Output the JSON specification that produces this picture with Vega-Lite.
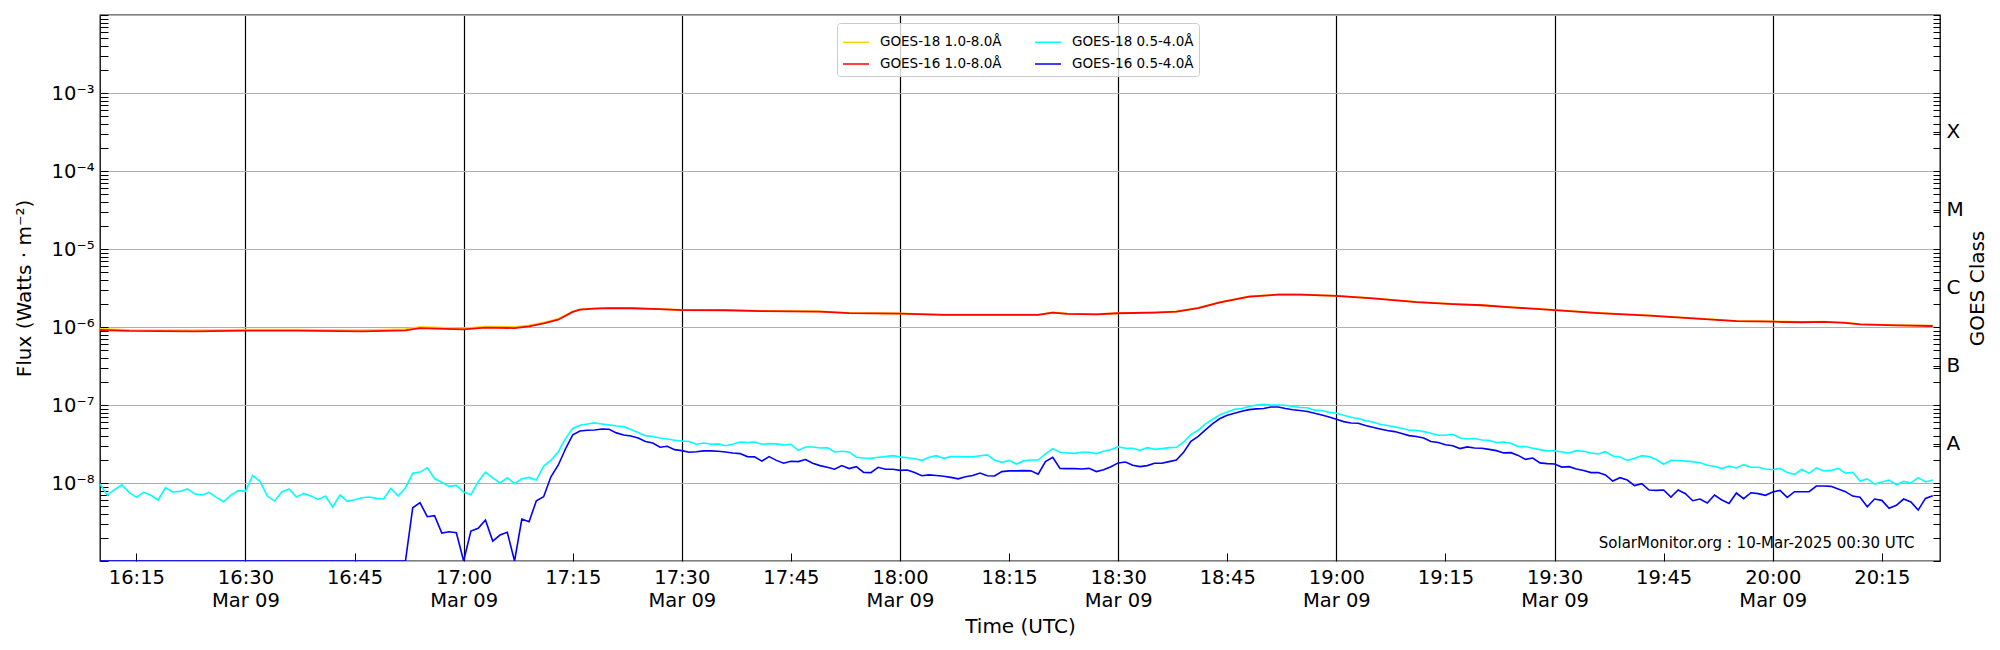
{
  "$schema": "https://vega.github.io/schema/vega-lite/v6.json",
  "width": 1840,
  "height": 546,
  "autosize": {"type": "none"},
  "padding": {"left": 100, "top": 15, "right": 60, "bottom": 89},
  "background": "white",
  "config": {
    "font": "DejaVu Sans",
    "view": {"stroke": "black", "strokeWidth": 1.3},
    "axis": {"labelFont": "DejaVu Sans", "titleFont": "DejaVu Sans", "labelColor": "black", "titleColor": "black", "tickColor": "black", "titleFontWeight": "normal", "labelOverlap": false, "labelBound": false, "labelFlush": false, "domain": false}
  },
  "datasets": {
    "g18long": [
      {"t":"2025-03-09T16:10Z","f":9.45e-7},{"t":"2025-03-09T16:14Z","f":9.2e-7},{"t":"2025-03-09T16:23Z","f":9.1e-7},{"t":"2025-03-09T16:30Z","f":9.28e-7},
      {"t":"2025-03-09T16:37Z","f":9.28e-7},{"t":"2025-03-09T16:46Z","f":9.1e-7},{"t":"2025-03-09T16:52Z","f":9.36e-7},{"t":"2025-03-09T16:54Z","f":1.0e-6},
      {"t":"2025-03-09T16:55Z","f":9.92e-7},{"t":"2025-03-09T17:00Z","f":9.6e-7},{"t":"2025-03-09T17:03Z","f":1.01e-6},{"t":"2025-03-09T17:07Z","f":1.0e-6},
      {"t":"2025-03-09T17:09Z","f":1.05e-6},{"t":"2025-03-09T17:11Z","f":1.14e-6},{"t":"2025-03-09T17:13Z","f":1.27e-6},{"t":"2025-03-09T17:15Z","f":1.58e-6},
      {"t":"2025-03-09T17:16Z","f":1.68e-6},{"t":"2025-03-09T17:18Z","f":1.73e-6},{"t":"2025-03-09T17:20Z","f":1.76e-6},{"t":"2025-03-09T17:23Z","f":1.75e-6},
      {"t":"2025-03-09T17:27Z","f":1.7e-6},{"t":"2025-03-09T17:30Z","f":1.66e-6},{"t":"2025-03-09T17:36Z","f":1.65e-6},{"t":"2025-03-09T17:41Z","f":1.61e-6},
      {"t":"2025-03-09T17:45Z","f":1.6e-6},{"t":"2025-03-09T17:49Z","f":1.58e-6},{"t":"2025-03-09T17:53Z","f":1.52e-6},{"t":"2025-03-09T18:00Z","f":1.49e-6},
      {"t":"2025-03-09T18:06Z","f":1.44e-6},{"t":"2025-03-09T18:19Z","f":1.44e-6},{"t":"2025-03-09T18:21Z","f":1.54e-6},{"t":"2025-03-09T18:23Z","f":1.48e-6},
      {"t":"2025-03-09T18:27Z","f":1.46e-6},{"t":"2025-03-09T18:30Z","f":1.51e-6},{"t":"2025-03-09T18:35Z","f":1.54e-6},{"t":"2025-03-09T18:38Z","f":1.58e-6},
      {"t":"2025-03-09T18:41Z","f":1.76e-6},{"t":"2025-03-09T18:44Z","f":2.08e-6},{"t":"2025-03-09T18:48Z","f":2.46e-6},{"t":"2025-03-09T18:52Z","f":2.61e-6},
      {"t":"2025-03-09T18:55Z","f":2.61e-6},{"t":"2025-03-09T19:00Z","f":2.51e-6},{"t":"2025-03-09T19:05Z","f":2.34e-6},{"t":"2025-03-09T19:11Z","f":2.1e-6},
      {"t":"2025-03-09T19:16Z","f":1.98e-6},{"t":"2025-03-09T19:20Z","f":1.91e-6},{"t":"2025-03-09T19:24Z","f":1.8e-6},{"t":"2025-03-09T19:30Z","f":1.66e-6},
      {"t":"2025-03-09T19:36Z","f":1.52e-6},{"t":"2025-03-09T19:43Z","f":1.41e-6},{"t":"2025-03-09T19:49Z","f":1.3e-6},{"t":"2025-03-09T19:55Z","f":1.2e-6},
      {"t":"2025-03-09T20:00Z","f":1.18e-6},{"t":"2025-03-09T20:04Z","f":1.16e-6},{"t":"2025-03-09T20:07Z","f":1.17e-6},{"t":"2025-03-09T20:10Z","f":1.14e-6},
      {"t":"2025-03-09T20:12Z","f":1.09e-6},{"t":"2025-03-09T20:17Z","f":1.06e-6},{"t":"2025-03-09T20:22Z","f":1.04e-6}
    ],
    "g16long": [
      {"t":"2025-03-09T16:10Z","f":9.15e-7},{"t":"2025-03-09T16:14Z","f":8.9e-7},{"t":"2025-03-09T16:23Z","f":8.8e-7},{"t":"2025-03-09T16:30Z","f":8.97e-7},
      {"t":"2025-03-09T16:37Z","f":8.97e-7},{"t":"2025-03-09T16:46Z","f":8.8e-7},{"t":"2025-03-09T16:52Z","f":9.06e-7},{"t":"2025-03-09T16:54Z","f":9.7e-7},
      {"t":"2025-03-09T16:55Z","f":9.6e-7},{"t":"2025-03-09T17:00Z","f":9.3e-7},{"t":"2025-03-09T17:03Z","f":9.8e-7},{"t":"2025-03-09T17:07Z","f":9.7e-7},
      {"t":"2025-03-09T17:09Z","f":1.02e-6},{"t":"2025-03-09T17:11Z","f":1.11e-6},{"t":"2025-03-09T17:13Z","f":1.24e-6},{"t":"2025-03-09T17:15Z","f":1.56e-6},
      {"t":"2025-03-09T17:16Z","f":1.67e-6},{"t":"2025-03-09T17:18Z","f":1.72e-6},{"t":"2025-03-09T17:20Z","f":1.75e-6},{"t":"2025-03-09T17:23Z","f":1.74e-6},
      {"t":"2025-03-09T17:27Z","f":1.69e-6},{"t":"2025-03-09T17:30Z","f":1.65e-6},{"t":"2025-03-09T17:36Z","f":1.64e-6},{"t":"2025-03-09T17:41Z","f":1.6e-6},
      {"t":"2025-03-09T17:45Z","f":1.59e-6},{"t":"2025-03-09T17:49Z","f":1.57e-6},{"t":"2025-03-09T17:53Z","f":1.51e-6},{"t":"2025-03-09T18:00Z","f":1.48e-6},
      {"t":"2025-03-09T18:06Z","f":1.43e-6},{"t":"2025-03-09T18:19Z","f":1.43e-6},{"t":"2025-03-09T18:21Z","f":1.53e-6},{"t":"2025-03-09T18:23Z","f":1.47e-6},
      {"t":"2025-03-09T18:27Z","f":1.45e-6},{"t":"2025-03-09T18:30Z","f":1.5e-6},{"t":"2025-03-09T18:35Z","f":1.53e-6},{"t":"2025-03-09T18:38Z","f":1.57e-6},
      {"t":"2025-03-09T18:41Z","f":1.75e-6},{"t":"2025-03-09T18:44Z","f":2.07e-6},{"t":"2025-03-09T18:48Z","f":2.45e-6},{"t":"2025-03-09T18:52Z","f":2.6e-6},
      {"t":"2025-03-09T18:55Z","f":2.6e-6},{"t":"2025-03-09T19:00Z","f":2.5e-6},{"t":"2025-03-09T19:05Z","f":2.33e-6},{"t":"2025-03-09T19:11Z","f":2.09e-6},
      {"t":"2025-03-09T19:16Z","f":1.97e-6},{"t":"2025-03-09T19:20Z","f":1.9e-6},{"t":"2025-03-09T19:24Z","f":1.79e-6},{"t":"2025-03-09T19:30Z","f":1.65e-6},
      {"t":"2025-03-09T19:36Z","f":1.51e-6},{"t":"2025-03-09T19:43Z","f":1.4e-6},{"t":"2025-03-09T19:49Z","f":1.29e-6},{"t":"2025-03-09T19:55Z","f":1.19e-6},
      {"t":"2025-03-09T20:00Z","f":1.17e-6},{"t":"2025-03-09T20:04Z","f":1.15e-6},{"t":"2025-03-09T20:07Z","f":1.16e-6},{"t":"2025-03-09T20:10Z","f":1.13e-6},
      {"t":"2025-03-09T20:12Z","f":1.08e-6},{"t":"2025-03-09T20:17Z","f":1.05e-6},{"t":"2025-03-09T20:22Z","f":1.03e-6}
    ],
    "g18short": [
      {"t":"2025-03-09T16:10Z","f":9.7e-9},{"t":"2025-03-09T16:11Z","f":7.0e-9},{"t":"2025-03-09T16:12Z","f":8.2e-9},{"t":"2025-03-09T16:13Z","f":9.5e-9},
      {"t":"2025-03-09T16:14Z","f":7.6e-9},{"t":"2025-03-09T16:15Z","f":6.55e-9},{"t":"2025-03-09T16:16Z","f":7.6e-9},{"t":"2025-03-09T16:17Z","f":6.95e-9},
      {"t":"2025-03-09T16:18Z","f":6.05e-9},{"t":"2025-03-09T16:19Z","f":8.7e-9},{"t":"2025-03-09T16:20Z","f":7.66e-9},{"t":"2025-03-09T16:21Z","f":7.8e-9},
      {"t":"2025-03-09T16:22Z","f":8.4e-9},{"t":"2025-03-09T16:23Z","f":7.3e-9},{"t":"2025-03-09T16:24Z","f":7.0e-9},{"t":"2025-03-09T16:25Z","f":7.6e-9},
      {"t":"2025-03-09T16:26Z","f":6.55e-9},{"t":"2025-03-09T16:27Z","f":5.75e-9},{"t":"2025-03-09T16:28Z","f":7.0e-9},{"t":"2025-03-09T16:29Z","f":7.97e-9},
      {"t":"2025-03-09T16:30Z","f":7.8e-9},{"t":"2025-03-09T16:31Z","f":1.25e-8},{"t":"2025-03-09T16:32Z","f":1.05e-8},{"t":"2025-03-09T16:33Z","f":6.8e-9},
      {"t":"2025-03-09T16:34Z","f":5.87e-9},{"t":"2025-03-09T16:35Z","f":7.66e-9},{"t":"2025-03-09T16:36Z","f":8.4e-9},{"t":"2025-03-09T16:37Z","f":6.6e-9},
      {"t":"2025-03-09T16:38Z","f":7.36e-9},{"t":"2025-03-09T16:39Z","f":6.8e-9},{"t":"2025-03-09T16:40Z","f":6.17e-9},{"t":"2025-03-09T16:41Z","f":6.8e-9},
      {"t":"2025-03-09T16:42Z","f":4.92e-9},{"t":"2025-03-09T16:43Z","f":7.0e-9},{"t":"2025-03-09T16:44Z","f":5.82e-9},{"t":"2025-03-09T16:45Z","f":6.1e-9},
      {"t":"2025-03-09T16:46Z","f":6.48e-9},{"t":"2025-03-09T16:47Z","f":6.6e-9},{"t":"2025-03-09T16:48Z","f":6.35e-9},{"t":"2025-03-09T16:49Z","f":6.23e-9},
      {"t":"2025-03-09T16:50Z","f":8.55e-9},{"t":"2025-03-09T16:51Z","f":6.8e-9},{"t":"2025-03-09T16:52Z","f":8.7e-9},{"t":"2025-03-09T16:53Z","f":1.33e-8},
      {"t":"2025-03-09T16:54Z","f":1.38e-8},{"t":"2025-03-09T16:55Z","f":1.57e-8},{"t":"2025-03-09T16:56Z","f":1.14e-8},{"t":"2025-03-09T16:57Z","f":1.02e-8},
      {"t":"2025-03-09T16:58Z","f":9.06e-9},{"t":"2025-03-09T16:59Z","f":9.33e-9},{"t":"2025-03-09T17:00Z","f":7.66e-9},{"t":"2025-03-09T17:01Z","f":7.08e-9},
      {"t":"2025-03-09T17:02Z","f":1.04e-8},{"t":"2025-03-09T17:03Z","f":1.38e-8},{"t":"2025-03-09T17:04Z","f":1.16e-8},{"t":"2025-03-09T17:05Z","f":1.0e-8},
      {"t":"2025-03-09T17:06Z","f":1.17e-8},{"t":"2025-03-09T17:07Z","f":9.8e-9},{"t":"2025-03-09T17:08Z","f":1.13e-8},{"t":"2025-03-09T17:09Z","f":1.18e-8},
      {"t":"2025-03-09T17:10Z","f":1.09e-8},{"t":"2025-03-09T17:11Z","f":1.65e-8},{"t":"2025-03-09T17:12Z","f":1.95e-8},{"t":"2025-03-09T17:13Z","f":2.5e-8},
      {"t":"2025-03-09T17:14Z","f":3.71e-8},{"t":"2025-03-09T17:15Z","f":5.0e-8},{"t":"2025-03-09T17:16Z","f":5.5e-8},{"t":"2025-03-09T17:17Z","f":5.72e-8},
      {"t":"2025-03-09T17:18Z","f":5.89e-8},{"t":"2025-03-09T17:19Z","f":5.72e-8},{"t":"2025-03-09T17:20Z","f":5.56e-8},{"t":"2025-03-09T17:21Z","f":5.39e-8},
      {"t":"2025-03-09T17:22Z","f":5.28e-8},{"t":"2025-03-09T17:23Z","f":4.84e-8},{"t":"2025-03-09T17:24Z","f":4.43e-8},{"t":"2025-03-09T17:25Z","f":4.05e-8},
      {"t":"2025-03-09T17:26Z","f":3.94e-8},{"t":"2025-03-09T17:27Z","f":3.78e-8},{"t":"2025-03-09T17:28Z","f":3.67e-8},{"t":"2025-03-09T17:29Z","f":3.53e-8},
      {"t":"2025-03-09T17:30Z","f":3.46e-8},{"t":"2025-03-09T17:31Z","f":3.4e-8},{"t":"2025-03-09T17:32Z","f":3.14e-8},{"t":"2025-03-09T17:33Z","f":3.26e-8},
      {"t":"2025-03-09T17:34Z","f":3.14e-8},{"t":"2025-03-09T17:35Z","f":3.17e-8},{"t":"2025-03-09T17:36Z","f":3.01e-8},{"t":"2025-03-09T17:37Z","f":3.14e-8},
      {"t":"2025-03-09T17:38Z","f":3.36e-8},{"t":"2025-03-09T17:39Z","f":3.3e-8},{"t":"2025-03-09T17:40Z","f":3.36e-8},{"t":"2025-03-09T17:41Z","f":3.14e-8},
      {"t":"2025-03-09T17:42Z","f":3.2e-8},{"t":"2025-03-09T17:43Z","f":3.17e-8},{"t":"2025-03-09T17:44Z","f":3.08e-8},{"t":"2025-03-09T17:45Z","f":3.14e-8},
      {"t":"2025-03-09T17:46Z","f":2.62e-8},{"t":"2025-03-09T17:47Z","f":2.9e-8},{"t":"2025-03-09T17:48Z","f":2.9e-8},{"t":"2025-03-09T17:49Z","f":2.81e-8},
      {"t":"2025-03-09T17:50Z","f":2.84e-8},{"t":"2025-03-09T17:51Z","f":2.5e-8},{"t":"2025-03-09T17:52Z","f":2.55e-8},{"t":"2025-03-09T17:53Z","f":2.5e-8},
      {"t":"2025-03-09T17:54Z","f":2.14e-8},{"t":"2025-03-09T17:55Z","f":2.09e-8},{"t":"2025-03-09T17:56Z","f":2.07e-8},{"t":"2025-03-09T17:57Z","f":2.14e-8},
      {"t":"2025-03-09T17:58Z","f":2.18e-8},{"t":"2025-03-09T17:59Z","f":2.24e-8},{"t":"2025-03-09T18:00Z","f":2.16e-8},{"t":"2025-03-09T18:01Z","f":2.11e-8},
      {"t":"2025-03-09T18:02Z","f":2.05e-8},{"t":"2025-03-09T18:03Z","f":1.95e-8},{"t":"2025-03-09T18:04Z","f":2.14e-8},{"t":"2025-03-09T18:05Z","f":2.24e-8},
      {"t":"2025-03-09T18:06Z","f":2.07e-8},{"t":"2025-03-09T18:07Z","f":2.18e-8},{"t":"2025-03-09T18:08Z","f":2.18e-8},{"t":"2025-03-09T18:09Z","f":2.16e-8},
      {"t":"2025-03-09T18:10Z","f":2.16e-8},{"t":"2025-03-09T18:11Z","f":2.24e-8},{"t":"2025-03-09T18:12Z","f":2.29e-8},{"t":"2025-03-09T18:13Z","f":1.97e-8},
      {"t":"2025-03-09T18:14Z","f":1.84e-8},{"t":"2025-03-09T18:15Z","f":1.95e-8},{"t":"2025-03-09T18:16Z","f":1.75e-8},{"t":"2025-03-09T18:17Z","f":1.92e-8},
      {"t":"2025-03-09T18:18Z","f":1.97e-8},{"t":"2025-03-09T18:19Z","f":1.97e-8},{"t":"2025-03-09T18:20Z","f":2.36e-8},{"t":"2025-03-09T18:21Z","f":2.76e-8},
      {"t":"2025-03-09T18:22Z","f":2.48e-8},{"t":"2025-03-09T18:23Z","f":2.43e-8},{"t":"2025-03-09T18:24Z","f":2.4e-8},{"t":"2025-03-09T18:25Z","f":2.48e-8},
      {"t":"2025-03-09T18:26Z","f":2.48e-8},{"t":"2025-03-09T18:27Z","f":2.38e-8},{"t":"2025-03-09T18:28Z","f":2.55e-8},{"t":"2025-03-09T18:29Z","f":2.68e-8},
      {"t":"2025-03-09T18:30Z","f":2.9e-8},{"t":"2025-03-09T18:31Z","f":2.79e-8},{"t":"2025-03-09T18:32Z","f":2.79e-8},{"t":"2025-03-09T18:33Z","f":2.62e-8},
      {"t":"2025-03-09T18:34Z","f":2.84e-8},{"t":"2025-03-09T18:35Z","f":2.7e-8},{"t":"2025-03-09T18:36Z","f":2.76e-8},{"t":"2025-03-09T18:37Z","f":2.84e-8},
      {"t":"2025-03-09T18:38Z","f":2.87e-8},{"t":"2025-03-09T18:39Z","f":3.36e-8},{"t":"2025-03-09T18:40Z","f":4.17e-8},{"t":"2025-03-09T18:41Z","f":4.74e-8},
      {"t":"2025-03-09T18:42Z","f":5.72e-8},{"t":"2025-03-09T18:43Z","f":6.56e-8},{"t":"2025-03-09T18:44Z","f":7.53e-8},{"t":"2025-03-09T18:45Z","f":8.15e-8},
      {"t":"2025-03-09T18:46Z","f":8.83e-8},{"t":"2025-03-09T18:47Z","f":9.0e-8},{"t":"2025-03-09T18:48Z","f":9.55e-8},{"t":"2025-03-09T18:49Z","f":1.0e-7},
      {"t":"2025-03-09T18:50Z","f":1.02e-7},{"t":"2025-03-09T18:51Z","f":1.0e-7},{"t":"2025-03-09T18:52Z","f":1.0e-7},{"t":"2025-03-09T18:53Z","f":9.9e-8},
      {"t":"2025-03-09T18:54Z","f":9.66e-8},{"t":"2025-03-09T18:55Z","f":9.29e-8},{"t":"2025-03-09T18:56Z","f":9.2e-8},{"t":"2025-03-09T18:57Z","f":8.59e-8},
      {"t":"2025-03-09T18:58Z","f":8.5e-8},{"t":"2025-03-09T18:59Z","f":8.05e-8},{"t":"2025-03-09T19:00Z","f":7.83e-8},{"t":"2025-03-09T19:01Z","f":7.39e-8},
      {"t":"2025-03-09T19:02Z","f":6.97e-8},{"t":"2025-03-09T19:03Z","f":6.7e-8},{"t":"2025-03-09T19:04Z","f":6.31e-8},{"t":"2025-03-09T19:05Z","f":6.07e-8},
      {"t":"2025-03-09T19:06Z","f":5.66e-8},{"t":"2025-03-09T19:07Z","f":5.45e-8},{"t":"2025-03-09T19:08Z","f":5.24e-8},{"t":"2025-03-09T19:09Z","f":5.03e-8},
      {"t":"2025-03-09T19:10Z","f":4.74e-8},{"t":"2025-03-09T19:11Z","f":4.74e-8},{"t":"2025-03-09T19:12Z","f":4.56e-8},{"t":"2025-03-09T19:13Z","f":4.34e-8},
      {"t":"2025-03-09T19:14Z","f":4.09e-8},{"t":"2025-03-09T19:15Z","f":4.09e-8},{"t":"2025-03-09T19:16Z","f":4.22e-8},{"t":"2025-03-09T19:17Z","f":3.78e-8},
      {"t":"2025-03-09T19:18Z","f":3.67e-8},{"t":"2025-03-09T19:19Z","f":3.71e-8},{"t":"2025-03-09T19:20Z","f":3.56e-8},{"t":"2025-03-09T19:21Z","f":3.53e-8},
      {"t":"2025-03-09T19:22Z","f":3.3e-8},{"t":"2025-03-09T19:23Z","f":3.36e-8},{"t":"2025-03-09T19:24Z","f":3.23e-8},{"t":"2025-03-09T19:25Z","f":2.93e-8},
      {"t":"2025-03-09T19:26Z","f":2.93e-8},{"t":"2025-03-09T19:27Z","f":2.79e-8},{"t":"2025-03-09T19:28Z","f":2.68e-8},{"t":"2025-03-09T19:29Z","f":2.58e-8},
      {"t":"2025-03-09T19:30Z","f":2.58e-8},{"t":"2025-03-09T19:31Z","f":2.5e-8},{"t":"2025-03-09T19:32Z","f":2.43e-8},{"t":"2025-03-09T19:33Z","f":2.6e-8},
      {"t":"2025-03-09T19:34Z","f":2.55e-8},{"t":"2025-03-09T19:35Z","f":2.43e-8},{"t":"2025-03-09T19:36Z","f":2.36e-8},{"t":"2025-03-09T19:37Z","f":2.52e-8},
      {"t":"2025-03-09T19:38Z","f":2.22e-8},{"t":"2025-03-09T19:39Z","f":2.16e-8},{"t":"2025-03-09T19:40Z","f":1.95e-8},{"t":"2025-03-09T19:41Z","f":2.07e-8},
      {"t":"2025-03-09T19:42Z","f":2.24e-8},{"t":"2025-03-09T19:43Z","f":2.18e-8},{"t":"2025-03-09T19:44Z","f":2.0e-8},{"t":"2025-03-09T19:45Z","f":1.74e-8},
      {"t":"2025-03-09T19:46Z","f":1.95e-8},{"t":"2025-03-09T19:47Z","f":1.94e-8},{"t":"2025-03-09T19:48Z","f":1.91e-8},{"t":"2025-03-09T19:49Z","f":1.88e-8},
      {"t":"2025-03-09T19:50Z","f":1.82e-8},{"t":"2025-03-09T19:51Z","f":1.69e-8},{"t":"2025-03-09T19:52Z","f":1.64e-8},{"t":"2025-03-09T19:53Z","f":1.53e-8},
      {"t":"2025-03-09T19:54Z","f":1.65e-8},{"t":"2025-03-09T19:55Z","f":1.56e-8},{"t":"2025-03-09T19:56Z","f":1.72e-8},{"t":"2025-03-09T19:57Z","f":1.59e-8},
      {"t":"2025-03-09T19:58Z","f":1.59e-8},{"t":"2025-03-09T19:59Z","f":1.51e-8},{"t":"2025-03-09T20:00Z","f":1.48e-8},{"t":"2025-03-09T20:01Z","f":1.54e-8},
      {"t":"2025-03-09T20:02Z","f":1.36e-8},{"t":"2025-03-09T20:03Z","f":1.29e-8},{"t":"2025-03-09T20:04Z","f":1.5e-8},{"t":"2025-03-09T20:05Z","f":1.33e-8},
      {"t":"2025-03-09T20:06Z","f":1.56e-8},{"t":"2025-03-09T20:07Z","f":1.43e-8},{"t":"2025-03-09T20:08Z","f":1.45e-8},{"t":"2025-03-09T20:09Z","f":1.54e-8},
      {"t":"2025-03-09T20:10Z","f":1.34e-8},{"t":"2025-03-09T20:11Z","f":1.37e-8},{"t":"2025-03-09T20:12Z","f":1.06e-8},{"t":"2025-03-09T20:13Z","f":1.13e-8},
      {"t":"2025-03-09T20:14Z","f":9.7e-9},{"t":"2025-03-09T20:15Z","f":1.03e-8},{"t":"2025-03-09T20:16Z","f":1.09e-8},{"t":"2025-03-09T20:17Z","f":9.5e-9},
      {"t":"2025-03-09T20:18Z","f":1.05e-8},{"t":"2025-03-09T20:19Z","f":1.0e-8},{"t":"2025-03-09T20:20Z","f":1.17e-8},{"t":"2025-03-09T20:21Z","f":1.03e-8},
      {"t":"2025-03-09T20:22Z","f":1.09e-8}
    ],
    "g16short": [
      {"t":"2025-03-09T16:10Z","f":1e-9},{"t":"2025-03-09T16:52Z","f":1e-9},{"t":"2025-03-09T16:53Z","f":4.82e-9},{"t":"2025-03-09T16:54Z","f":5.6e-9},
      {"t":"2025-03-09T16:55Z","f":3.7e-9},{"t":"2025-03-09T16:56Z","f":3.81e-9},{"t":"2025-03-09T16:57Z","f":2.28e-9},{"t":"2025-03-09T16:58Z","f":2.37e-9},
      {"t":"2025-03-09T16:59Z","f":2.3e-9},{"t":"2025-03-09T17:00Z","f":1e-9},{"t":"2025-03-09T17:01Z","f":2.42e-9},{"t":"2025-03-09T17:02Z","f":2.62e-9},
      {"t":"2025-03-09T17:03Z","f":3.35e-9},{"t":"2025-03-09T17:04Z","f":1.8e-9},{"t":"2025-03-09T17:05Z","f":2.15e-9},{"t":"2025-03-09T17:06Z","f":2.33e-9},
      {"t":"2025-03-09T17:07Z","f":1e-9},{"t":"2025-03-09T17:08Z","f":3.45e-9},{"t":"2025-03-09T17:09Z","f":3.19e-9},{"t":"2025-03-09T17:10Z","f":5.93e-9},
      {"t":"2025-03-09T17:11Z","f":6.68e-9},{"t":"2025-03-09T17:12Z","f":1.2e-8},{"t":"2025-03-09T17:13Z","f":1.69e-8},{"t":"2025-03-09T17:14Z","f":2.73e-8},
      {"t":"2025-03-09T17:15Z","f":4.15e-8},{"t":"2025-03-09T17:16Z","f":4.65e-8},{"t":"2025-03-09T17:17Z","f":4.74e-8},{"t":"2025-03-09T17:18Z","f":4.79e-8},
      {"t":"2025-03-09T17:19Z","f":4.93e-8},{"t":"2025-03-09T17:20Z","f":4.88e-8},{"t":"2025-03-09T17:21Z","f":4.39e-8},{"t":"2025-03-09T17:22Z","f":4.13e-8},
      {"t":"2025-03-09T17:23Z","f":4.01e-8},{"t":"2025-03-09T17:24Z","f":3.78e-8},{"t":"2025-03-09T17:25Z","f":3.4e-8},{"t":"2025-03-09T17:26Z","f":3.26e-8},
      {"t":"2025-03-09T17:27Z","f":2.87e-8},{"t":"2025-03-09T17:28Z","f":2.96e-8},{"t":"2025-03-09T17:29Z","f":2.68e-8},{"t":"2025-03-09T17:30Z","f":2.6e-8},
      {"t":"2025-03-09T17:31Z","f":2.48e-8},{"t":"2025-03-09T17:32Z","f":2.52e-8},{"t":"2025-03-09T17:33Z","f":2.58e-8},{"t":"2025-03-09T17:34Z","f":2.58e-8},
      {"t":"2025-03-09T17:35Z","f":2.55e-8},{"t":"2025-03-09T17:36Z","f":2.5e-8},{"t":"2025-03-09T17:37Z","f":2.43e-8},{"t":"2025-03-09T17:38Z","f":2.38e-8},
      {"t":"2025-03-09T17:39Z","f":2.18e-8},{"t":"2025-03-09T17:40Z","f":2.16e-8},{"t":"2025-03-09T17:41Z","f":1.91e-8},{"t":"2025-03-09T17:42Z","f":2.18e-8},
      {"t":"2025-03-09T17:43Z","f":1.95e-8},{"t":"2025-03-09T17:44Z","f":1.79e-8},{"t":"2025-03-09T17:45Z","f":1.9e-8},{"t":"2025-03-09T17:46Z","f":1.88e-8},
      {"t":"2025-03-09T17:47Z","f":2.0e-8},{"t":"2025-03-09T17:48Z","f":1.79e-8},{"t":"2025-03-09T17:49Z","f":1.67e-8},{"t":"2025-03-09T17:50Z","f":1.59e-8},
      {"t":"2025-03-09T17:51Z","f":1.5e-8},{"t":"2025-03-09T17:52Z","f":1.67e-8},{"t":"2025-03-09T17:53Z","f":1.53e-8},{"t":"2025-03-09T17:54Z","f":1.62e-8},
      {"t":"2025-03-09T17:55Z","f":1.37e-8},{"t":"2025-03-09T17:56Z","f":1.36e-8},{"t":"2025-03-09T17:57Z","f":1.59e-8},{"t":"2025-03-09T17:58Z","f":1.5e-8},
      {"t":"2025-03-09T17:59Z","f":1.5e-8},{"t":"2025-03-09T18:00Z","f":1.45e-8},{"t":"2025-03-09T18:01Z","f":1.47e-8},{"t":"2025-03-09T18:02Z","f":1.36e-8},
      {"t":"2025-03-09T18:03Z","f":1.24e-8},{"t":"2025-03-09T18:04Z","f":1.27e-8},{"t":"2025-03-09T18:05Z","f":1.25e-8},{"t":"2025-03-09T18:06Z","f":1.22e-8},
      {"t":"2025-03-09T18:07Z","f":1.18e-8},{"t":"2025-03-09T18:08Z","f":1.13e-8},{"t":"2025-03-09T18:09Z","f":1.2e-8},{"t":"2025-03-09T18:10Z","f":1.25e-8},
      {"t":"2025-03-09T18:11Z","f":1.34e-8},{"t":"2025-03-09T18:12Z","f":1.24e-8},{"t":"2025-03-09T18:13Z","f":1.23e-8},{"t":"2025-03-09T18:14Z","f":1.4e-8},
      {"t":"2025-03-09T18:15Z","f":1.43e-8},{"t":"2025-03-09T18:16Z","f":1.43e-8},{"t":"2025-03-09T18:17Z","f":1.44e-8},{"t":"2025-03-09T18:18Z","f":1.43e-8},
      {"t":"2025-03-09T18:19Z","f":1.3e-8},{"t":"2025-03-09T18:20Z","f":1.88e-8},{"t":"2025-03-09T18:21Z","f":2.14e-8},{"t":"2025-03-09T18:22Z","f":1.54e-8},
      {"t":"2025-03-09T18:23Z","f":1.53e-8},{"t":"2025-03-09T18:24Z","f":1.53e-8},{"t":"2025-03-09T18:25Z","f":1.51e-8},{"t":"2025-03-09T18:26Z","f":1.54e-8},
      {"t":"2025-03-09T18:27Z","f":1.4e-8},{"t":"2025-03-09T18:28Z","f":1.48e-8},{"t":"2025-03-09T18:29Z","f":1.62e-8},{"t":"2025-03-09T18:30Z","f":1.81e-8},
      {"t":"2025-03-09T18:31Z","f":1.86e-8},{"t":"2025-03-09T18:32Z","f":1.69e-8},{"t":"2025-03-09T18:33Z","f":1.62e-8},{"t":"2025-03-09T18:34Z","f":1.67e-8},
      {"t":"2025-03-09T18:35Z","f":1.79e-8},{"t":"2025-03-09T18:36Z","f":1.79e-8},{"t":"2025-03-09T18:37Z","f":1.88e-8},{"t":"2025-03-09T18:38Z","f":1.97e-8},
      {"t":"2025-03-09T18:39Z","f":2.48e-8},{"t":"2025-03-09T18:40Z","f":3.43e-8},{"t":"2025-03-09T18:41Z","f":3.97e-8},{"t":"2025-03-09T18:42Z","f":4.79e-8},
      {"t":"2025-03-09T18:43Z","f":5.78e-8},{"t":"2025-03-09T18:44Z","f":6.7e-8},{"t":"2025-03-09T18:45Z","f":7.39e-8},{"t":"2025-03-09T18:46Z","f":7.83e-8},
      {"t":"2025-03-09T18:47Z","f":8.32e-8},{"t":"2025-03-09T18:48Z","f":8.73e-8},{"t":"2025-03-09T18:49Z","f":8.91e-8},{"t":"2025-03-09T18:50Z","f":9.0e-8},
      {"t":"2025-03-09T18:51Z","f":9.42e-8},{"t":"2025-03-09T18:52Z","f":9.42e-8},{"t":"2025-03-09T18:53Z","f":9.0e-8},{"t":"2025-03-09T18:54Z","f":8.7e-8},
      {"t":"2025-03-09T18:55Z","f":8.5e-8},{"t":"2025-03-09T18:56Z","f":8.24e-8},{"t":"2025-03-09T18:57Z","f":7.83e-8},{"t":"2025-03-09T18:58Z","f":7.46e-8},
      {"t":"2025-03-09T18:59Z","f":7.03e-8},{"t":"2025-03-09T19:00Z","f":6.56e-8},{"t":"2025-03-09T19:01Z","f":6.12e-8},{"t":"2025-03-09T19:02Z","f":5.89e-8},
      {"t":"2025-03-09T19:03Z","f":5.83e-8},{"t":"2025-03-09T19:04Z","f":5.45e-8},{"t":"2025-03-09T19:05Z","f":5.19e-8},{"t":"2025-03-09T19:06Z","f":4.93e-8},
      {"t":"2025-03-09T19:07Z","f":4.7e-8},{"t":"2025-03-09T19:08Z","f":4.56e-8},{"t":"2025-03-09T19:09Z","f":4.3e-8},{"t":"2025-03-09T19:10Z","f":4.05e-8},
      {"t":"2025-03-09T19:11Z","f":3.94e-8},{"t":"2025-03-09T19:12Z","f":3.78e-8},{"t":"2025-03-09T19:13Z","f":3.4e-8},{"t":"2025-03-09T19:14Z","f":3.3e-8},
      {"t":"2025-03-09T19:15Z","f":3.1e-8},{"t":"2025-03-09T19:16Z","f":3.01e-8},{"t":"2025-03-09T19:17Z","f":2.76e-8},{"t":"2025-03-09T19:18Z","f":2.9e-8},
      {"t":"2025-03-09T19:19Z","f":2.81e-8},{"t":"2025-03-09T19:20Z","f":2.79e-8},{"t":"2025-03-09T19:21Z","f":2.7e-8},{"t":"2025-03-09T19:22Z","f":2.6e-8},
      {"t":"2025-03-09T19:23Z","f":2.43e-8},{"t":"2025-03-09T19:24Z","f":2.45e-8},{"t":"2025-03-09T19:25Z","f":2.26e-8},{"t":"2025-03-09T19:26Z","f":2.01e-8},
      {"t":"2025-03-09T19:27Z","f":2.09e-8},{"t":"2025-03-09T19:28Z","f":1.81e-8},{"t":"2025-03-09T19:29Z","f":1.77e-8},{"t":"2025-03-09T19:30Z","f":1.75e-8},
      {"t":"2025-03-09T19:31Z","f":1.6e-8},{"t":"2025-03-09T19:32Z","f":1.62e-8},{"t":"2025-03-09T19:33Z","f":1.51e-8},{"t":"2025-03-09T19:34Z","f":1.45e-8},
      {"t":"2025-03-09T19:35Z","f":1.36e-8},{"t":"2025-03-09T19:36Z","f":1.36e-8},{"t":"2025-03-09T19:37Z","f":1.27e-8},{"t":"2025-03-09T19:38Z","f":1.06e-8},
      {"t":"2025-03-09T19:39Z","f":1.17e-8},{"t":"2025-03-09T19:40Z","f":1.09e-8},{"t":"2025-03-09T19:41Z","f":9.25e-9},{"t":"2025-03-09T19:42Z","f":9.8e-9},
      {"t":"2025-03-09T19:43Z","f":8.13e-9},{"t":"2025-03-09T19:44Z","f":8.05e-9},{"t":"2025-03-09T19:45Z","f":8.13e-9},{"t":"2025-03-09T19:46Z","f":6.61e-9},
      {"t":"2025-03-09T19:47Z","f":8.13e-9},{"t":"2025-03-09T19:48Z","f":7.3e-9},{"t":"2025-03-09T19:49Z","f":5.93e-9},{"t":"2025-03-09T19:50Z","f":6.23e-9},
      {"t":"2025-03-09T19:51Z","f":5.53e-9},{"t":"2025-03-09T19:52Z","f":7.0e-9},{"t":"2025-03-09T19:53Z","f":6.05e-9},{"t":"2025-03-09T19:54Z","f":5.48e-9},
      {"t":"2025-03-09T19:55Z","f":7.44e-9},{"t":"2025-03-09T19:56Z","f":6.29e-9},{"t":"2025-03-09T19:57Z","f":7.5e-9},{"t":"2025-03-09T19:58Z","f":7.3e-9},
      {"t":"2025-03-09T19:59Z","f":6.95e-9},{"t":"2025-03-09T20:00Z","f":7.66e-9},{"t":"2025-03-09T20:01Z","f":8.05e-9},{"t":"2025-03-09T20:02Z","f":6.55e-9},
      {"t":"2025-03-09T20:03Z","f":7.74e-9},{"t":"2025-03-09T20:04Z","f":7.74e-9},{"t":"2025-03-09T20:05Z","f":7.74e-9},{"t":"2025-03-09T20:06Z","f":9.15e-9},
      {"t":"2025-03-09T20:07Z","f":9.15e-9},{"t":"2025-03-09T20:08Z","f":9.06e-9},{"t":"2025-03-09T20:09Z","f":8.4e-9},{"t":"2025-03-09T20:10Z","f":7.74e-9},
      {"t":"2025-03-09T20:11Z","f":6.8e-9},{"t":"2025-03-09T20:12Z","f":6.55e-9},{"t":"2025-03-09T20:13Z","f":4.97e-9},{"t":"2025-03-09T20:14Z","f":6.23e-9},
      {"t":"2025-03-09T20:15Z","f":5.99e-9},{"t":"2025-03-09T20:16Z","f":4.73e-9},{"t":"2025-03-09T20:17Z","f":5.17e-9},{"t":"2025-03-09T20:18Z","f":6.23e-9},
      {"t":"2025-03-09T20:19Z","f":5.7e-9},{"t":"2025-03-09T20:20Z","f":4.5e-9},{"t":"2025-03-09T20:21Z","f":6.35e-9},{"t":"2025-03-09T20:22Z","f":6.88e-9}
    ]
  },
  "encoding": {
    "x": {
      "field": "t",
      "type": "temporal",
      "scale": {"type": "utc", "domain": [1741536600000, 1741551780000], "nice": false},
      "axis": {
        "title": "Time (UTC)",
        "titleFontSize": 20,
        "titlePadding": 7,
        "values": [1741536900000, 1741537800000, 1741538700000, 1741539600000, 1741540500000, 1741541400000, 1741542300000, 1741543200000, 1741544100000, 1741545000000, 1741545900000, 1741546800000, 1741547700000, 1741548600000, 1741549500000, 1741550400000, 1741551300000],
        "labelExpr": "utcminutes(datum.value) % 30 == 0 ? [utcFormat(datum.value, '%H:%M'), utcFormat(datum.value, '%b %d')] : utcFormat(datum.value, '%H:%M')",
        "labelFontSize": 19.5,
        "labelLineHeight": 23,
        "labelPadding": 15,
        "tickSize": -8,
        "tickWidth": 1,
        "grid": true,
        "gridColor": "black",
        "gridWidth": 1.2,
        "gridOpacity": {"condition": {"test": "utcminutes(datum.value) % 30 == 0", "value": 1}, "value": 0}
      }
    }
  },
  "layer": [
    {
      "data": {"name": "g18long"},
      "mark": {"type": "line", "strokeWidth": 1.8, "clip": true},
      "encoding": {
        "y": {
          "field": "f",
          "type": "quantitative",
          "scale": {"type": "log", "domain": [1e-9, 1e-2], "nice": false},
          "axis": {
            "orient": "left",
            "title": "Flux (Watts · m⁻²)",
            "titleFontSize": 20,
            "titlePadding": 17,
            "values": [1e-9,2e-9,3e-9,4e-9,5e-9,6e-9,7e-9,8e-9,9e-9,1e-8,2e-8,3e-8,4e-8,5e-8,6e-8,7e-8,8e-8,9e-8,1e-7,2e-7,3e-7,4e-7,5e-7,6e-7,7e-7,8e-7,9e-7,1e-6,2e-6,3e-6,4e-6,5e-6,6e-6,7e-6,8e-6,9e-6,1e-5,2e-5,3e-5,4e-5,5e-5,6e-5,7e-5,8e-5,9e-5,1e-4,2e-4,3e-4,4e-4,5e-4,6e-4,7e-4,8e-4,9e-4,1e-3,2e-3,3e-3,4e-3,5e-3,6e-3,7e-3,8e-3,9e-3,1e-2],
            "labelExpr": "abs(log(datum.value)/LN10 - round(log(datum.value)/LN10)) < 0.0001 && datum.value > 2e-9 && datum.value < 2e-3 ? '10⁻' + substring('⁰¹²³⁴⁵⁶⁷⁸⁹', -round(log(datum.value)/LN10), 1 - round(log(datum.value)/LN10)) : ''",
            "labelFontSize": 19.5,
            "labelPadding": 14,
            "tickSize": -8,
            "tickWidth": 1,
            "grid": true,
            "gridColor": "#b0b0b0",
            "gridWidth": 1.2,
            "gridOpacity": {"condition": {"test": "abs(log(datum.value)/LN10 - round(log(datum.value)/LN10)) < 0.0001", "value": 1}, "value": 0}
          }
        },
        "color": {
          "datum": "GOES-18 1.0-8.0Å",
          "type": "nominal",
          "scale": {"domain": ["GOES-18 1.0-8.0Å", "GOES-16 1.0-8.0Å", "GOES-18 0.5-4.0Å", "GOES-16 0.5-4.0Å"], "range": ["#FFD700", "#FF0000", "#00FFFF", "#0000FF"]},
          "legend": {
            "title": null,
            "orient": "none",
            "legendX": 737,
            "legendY": 8,
            "columns": 2,
            "symbolType": "stroke",
            "symbolStrokeWidth": 1.5,
            "symbolSize": 676,
            "labelFont": "DejaVu Sans",
            "labelFontSize": 13.5,
            "labelColor": "black",
            "labelOffset": 10,
            "columnPadding": 30,
            "rowPadding": 1,
            "padding": 5,
            "strokeColor": "#cccccc",
            "fillColor": "rgba(255,255,255,0.8)",
            "cornerRadius": 3
          }
        }
      }
    },
    {
      "data": {"name": "g16long"},
      "mark": {"type": "line", "strokeWidth": 1.8, "clip": true},
      "encoding": {
        "y": {"field": "f", "type": "quantitative", "scale": {"type": "log", "domain": [1e-9, 1e-2], "nice": false}, "axis": null},
        "color": {"datum": "GOES-16 1.0-8.0Å", "type": "nominal"}
      }
    },
    {
      "data": {"name": "g18short"},
      "mark": {"type": "line", "strokeWidth": 1.6, "clip": true},
      "encoding": {
        "y": {"field": "f", "type": "quantitative", "scale": {"type": "log", "domain": [1e-9, 1e-2], "nice": false}, "axis": null},
        "color": {"datum": "GOES-18 0.5-4.0Å", "type": "nominal"}
      }
    },
    {
      "data": {"name": "g16short"},
      "mark": {"type": "line", "strokeWidth": 1.6, "clip": true},
      "encoding": {
        "y": {"field": "f", "type": "quantitative", "scale": {"type": "log", "domain": [1e-9, 1e-2], "nice": false}, "axis": null},
        "color": {"datum": "GOES-16 0.5-4.0Å", "type": "nominal"}
      }
    },
    {
      "data": {"values": [{"t": "2025-03-09T20:19:30Z", "f": 1.7e-9, "label": "SolarMonitor.org : 10-Mar-2025 00:30 UTC"}]},
      "mark": {"type": "text", "align": "right", "baseline": "middle", "fontSize": 15, "font": "DejaVu Sans", "color": "black"},
      "encoding": {
        "text": {"field": "label"},
        "y": {
          "field": "f",
          "type": "quantitative",
          "scale": {"type": "log", "domain": [1e-9, 1e-2], "nice": false},
          "axis": {
            "orient": "right",
            "title": "GOES Class",
            "titleFontSize": 20,
            "titleAngle": 270,
            "titleBaseline": "top",
            "titlePadding": 4,
            "values": [1e-9,2e-9,3e-9,4e-9,5e-9,6e-9,7e-9,8e-9,9e-9,1e-8,2e-8,3e-8,4e-8,5e-8,6e-8,7e-8,8e-8,9e-8,1e-7,2e-7,3e-7,4e-7,5e-7,6e-7,7e-7,8e-7,9e-7,1e-6,2e-6,3e-6,4e-6,5e-6,6e-6,7e-6,8e-6,9e-6,1e-5,2e-5,3e-5,4e-5,5e-5,6e-5,7e-5,8e-5,9e-5,1e-4,2e-4,3e-4,4e-4,5e-4,6e-4,7e-4,8e-4,9e-4,1e-3,2e-3,3e-3,4e-3,5e-3,6e-3,7e-3,8e-3,9e-3,1e-2,3.16228e-4,3.16228e-5,3.16228e-6,3.16228e-7,3.16228e-8],
            "labelExpr": "abs(datum.value/3.16228e-4-1) < 0.001 ? 'X' : abs(datum.value/3.16228e-5-1) < 0.001 ? 'M' : abs(datum.value/3.16228e-6-1) < 0.001 ? 'C' : abs(datum.value/3.16228e-7-1) < 0.001 ? 'B' : abs(datum.value/3.16228e-8-1) < 0.001 ? 'A' : ''",
            "labelFontSize": 20,
            "labelPadding": 13,
            "tickSize": -7,
            "tickWidth": 1,
            "grid": false
          }
        }
      }
    }
  ],
  "resolve": {"axis": {"y": "independent"}}
}
